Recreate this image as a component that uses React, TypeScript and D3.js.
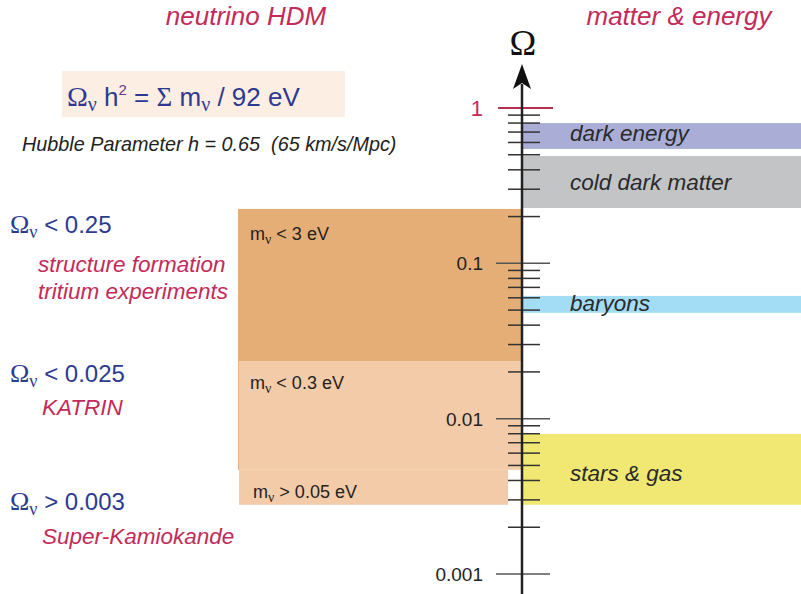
import * as d3 from 'd3';
import React from 'react';

// Ω values
const matterLabels = ['dark energy', 'cold dark matter', 'baryons', 'stars & gas'];
const matterHi = [0.8, 0.491, 0.0617, 0.00798];
const matterLo = [0.545, 0.227, 0.048, 0.00279];

const nuLabels = ['< 3 eV', '< 0.3 eV', '> 0.05 eV'];
const nuHi = [0.224, 0.0235, 0.00469];
const nuLo = [0.0235, 0.00469, 0.00279];

const limitLabels = ['< 0.25', '< 0.025', '> 0.003'];
const limitSources = [['structure formation', 'tritium experiments'], ['KATRIN'], ['Super-Kamiokande']];

const tickLabels = ['1', '0.1', '0.01', '0.001'];
const tickValues = [1, 0.1, 0.01, 0.001];

const matterColors = ['#aaaed6', '#c3c4c6', '#a2dcf5', '#f0e872'];
const nuColors = ['#e5ae76', '#f3cba8', '#f3cba8'];

const W = 801;
const H = 594;
const AX = 522;
const SANS = '"Liberation Sans", Arial, sans-serif';
const SERIF = '"Liberation Serif", "DejaVu Serif", serif';
const CRIMSON = '#c42a58';
const BLUE = '#2c3a92';

const y = d3.scaleLog().domain([0.001, 1]).range([574, 108]);

const Omega = ({ x, yb, text, size = 24 }: { x: number; yb: number; text: string; size?: number }) => (
  <text x={x} y={yb} fill={BLUE} fontFamily={SANS} fontSize={size}>
    <tspan fontFamily={SERIF} fontSize={size + 2}>Ω</tspan>
    <tspan fontFamily={SERIF} fontSize={size * 0.75} dy={5}>ν</tspan>
    <tspan dy={-5}> {text}</tspan>
  </text>
);

const App = () => {
  const ticks = y.ticks();
  const isMajor = (v: number) => tickValues.some((t) => Math.abs(t - v) < t * 1e-6);
  const nuLeft = [238, 238, 239];
  const nuRight = [AX, AX, 508];
  const nuTextY = [240, 389, 498];
  const nuTextX = [250, 250, 253];
  const matterTextY = [141, 190, 311, 481];
  const limitY = [233, 382, 510];
  const sourceY = [[272, 299], [415], [544]];

  return (
    <svg width={W} height={H} style={{ position: 'absolute', left: 0, top: 0 }}>
      <rect width={W} height={H} fill="#fff" />

      {/* neutrino mass bands */}
      {nuLabels.map((l, i) => (
        <rect
          key={l}
          x={nuLeft[i]}
          y={y(nuHi[i])}
          width={nuRight[i] - nuLeft[i]}
          height={y(nuLo[i]) - y(nuHi[i])}
          fill={nuColors[i]}
        />
      ))}
      <line x1={238.5} x2={238.5} y1={y(nuHi[1])} y2={y(nuLo[1])} stroke="#e8b07c" strokeWidth={1} />
      {nuLabels.map((l, i) => (
        <text key={l} x={nuTextX[i]} y={nuTextY[i]} fontFamily={SANS} fontSize={18} fill="#222">
          m<tspan fontFamily={SERIF} fontSize={14} dy={4}>ν</tspan>
          <tspan dy={-4}> {l}</tspan>
        </text>
      ))}

      {/* matter & energy bands */}
      {matterLabels.map((l, i) => (
        <rect
          key={l}
          x={AX}
          y={y(matterHi[i])}
          width={W - AX}
          height={y(matterLo[i]) - y(matterHi[i])}
          fill={matterColors[i]}
        />
      ))}
      {matterLabels.map((l, i) => (
        <text key={l} x={570} y={matterTextY[i]} fontFamily={SANS} fontStyle="italic" fontSize={22.5} fill="#2a2a2a">
          {l}
        </text>
      ))}

      {/* axis ticks */}
      {ticks.map((v) =>
        isMajor(v) ? (
          v === 1 ? null : (
            <line key={v} x1={496} x2={550} y1={y(v)} y2={y(v)} stroke="#555" strokeWidth={1.5} />
          )
        ) : (
          <line key={v} x1={508} x2={540} y1={y(v)} y2={y(v)} stroke="#333" strokeWidth={1.5} />
        )
      )}
      <line x1={498} x2={553} y1={y(1)} y2={y(1)} stroke="#b5304f" strokeWidth={2} />
      {tickValues.map((v, i) => (
        <text
          key={v}
          x={483}
          y={y(v)}
          dy="0.36em"
          textAnchor="end"
          fontFamily={SANS}
          fontSize={v === 1 ? 22 : 19}
          fill={v === 1 ? CRIMSON : '#222'}
        >
          {tickLabels[i]}
        </text>
      ))}

      {/* axis with arrow */}
      <line x1={AX} x2={AX} y1={84} y2={H} stroke="#222" strokeWidth={2.5} />
      <path d={`M${AX},64 L${AX + 9},89 L${AX},83 L${AX - 9},89 Z`} fill="#111" />
      <text x={AX + 1} y={55} textAnchor="middle" fontFamily={SERIF} fontSize={36} fill="#111">
        Ω
      </text>

      {/* headings */}
      <text x={246} y={25} textAnchor="middle" fontFamily={SANS} fontStyle="italic" fontSize={26} fill={CRIMSON}>
        neutrino HDM
      </text>
      <text x={679} y={25} textAnchor="middle" fontFamily={SANS} fontStyle="italic" fontSize={26} fill={CRIMSON}>
        matter &amp; energy
      </text>

      {/* formula */}
      <rect x={62} y={71} width={283} height={46} fill="#fdeee3" />
      <text x={67} y={106} fill={BLUE} fontFamily={SANS} fontSize={26}>
        <tspan fontFamily={SERIF} fontSize={28}>Ω</tspan>
        <tspan fontFamily={SERIF} fontSize={20} dy={5}>ν</tspan>
        <tspan dy={-5}> h</tspan>
        <tspan fontSize={15} dy={-11} fill="#6a3a8a">2</tspan>
        <tspan dy={11}> = </tspan>
        <tspan fontFamily={SERIF} fontSize={27}>Σ</tspan>
        <tspan> m</tspan>
        <tspan fontFamily={SERIF} fontSize={20} dy={5}>ν</tspan>
        <tspan dy={-5}> / 92 eV</tspan>
      </text>
      <text x={22} y={151} fontFamily={SANS} fontStyle="italic" fontSize={19.8} fill="#222" style={{ whiteSpace: 'pre' }}>
        Hubble Parameter h = 0.65  (65 km/s/Mpc)
      </text>

      {/* limits */}
      {limitLabels.map((l, i) => (
        <g key={l}>
          <Omega x={10} yb={limitY[i]} text={l} />
          {limitSources[i].map((s, j) => (
            <text
              key={s}
              x={i === 0 ? 38 : 42}
              y={sourceY[i][j]}
              fontFamily={SANS}
              fontStyle="italic"
              fontSize={22.5}
              fill={CRIMSON}
            >
              {s}
            </text>
          ))}
        </g>
      ))}
    </svg>
  );
};

export default App;
